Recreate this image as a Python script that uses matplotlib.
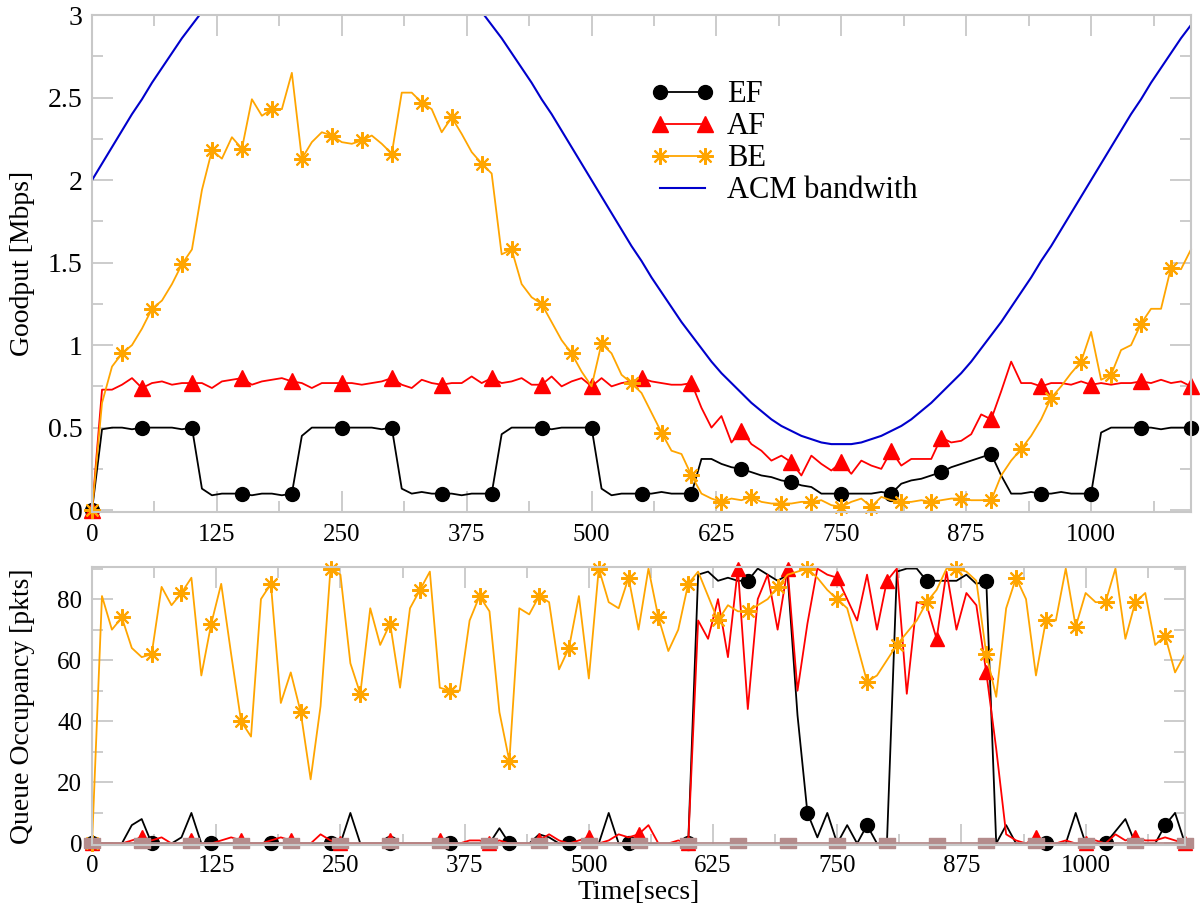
import numpy as np
import matplotlib
matplotlib.use('Agg')
import matplotlib.pyplot as plt
from matplotlib.ticker import MultipleLocator

plt.rcParams['font.family'] = ['Liberation Serif', 'DejaVu Serif']

# sample times (secs)
time = np.arange(0, 1101, 10)

# goodput [Mbps]
ef_good = [0, 0.49, 0.50, 0.50, 0.49, 0.50, 0.50, 0.50, 0.50, 0.49, 0.50,
           0.13, 0.09, 0.10, 0.10, 0.10, 0.09, 0.10, 0.10, 0.09, 0.10,
           0.45, 0.50, 0.50, 0.50, 0.50, 0.50, 0.50, 0.50, 0.49, 0.50,
           0.13, 0.10, 0.11, 0.10, 0.10, 0.10, 0.09, 0.10, 0.10, 0.10,
           0.46, 0.50, 0.50, 0.50, 0.50, 0.49, 0.50, 0.50, 0.50, 0.50,
           0.13, 0.09, 0.10, 0.10, 0.10, 0.10, 0.11, 0.10, 0.10, 0.10,
           0.31, 0.31, 0.28, 0.26, 0.25, 0.23, 0.21, 0.20, 0.18, 0.17,
           0.15, 0.14, 0.10, 0.10, 0.10, 0.10, 0.10, 0.10, 0.11, 0.10,
           0.16, 0.18, 0.19, 0.21, 0.23, 0.26, 0.28, 0.30, 0.32, 0.34,
           0.21, 0.10, 0.10, 0.11, 0.10, 0.10, 0.11, 0.10, 0.10, 0.10,
           0.47, 0.50, 0.50, 0.50, 0.50, 0.50, 0.49, 0.50, 0.50, 0.50]
af_good = [0, 0.73, 0.73, 0.76, 0.80, 0.74, 0.77, 0.78, 0.76, 0.77, 0.77,
           0.77, 0.74, 0.78, 0.79, 0.80, 0.76, 0.78, 0.79, 0.80, 0.78,
           0.77, 0.74, 0.77, 0.77, 0.77, 0.77, 0.76, 0.77, 0.78, 0.80,
           0.76, 0.74, 0.79, 0.77, 0.76, 0.77, 0.77, 0.81, 0.77, 0.80,
           0.77, 0.78, 0.80, 0.76, 0.76, 0.81, 0.75, 0.78, 0.80, 0.75,
           0.80, 0.75, 0.77, 0.78, 0.80, 0.78, 0.77, 0.76, 0.76, 0.77,
           0.62, 0.50, 0.57, 0.41, 0.48, 0.40, 0.36, 0.30, 0.33, 0.29,
           0.21, 0.33, 0.28, 0.24, 0.29, 0.22, 0.30, 0.27, 0.25, 0.36,
           0.27, 0.31, 0.31, 0.31, 0.44, 0.41, 0.42, 0.46, 0.58, 0.55,
           0.72, 0.90, 0.77, 0.77, 0.75, 0.77, 0.77, 0.76, 0.78, 0.76,
           0.77, 0.76, 0.77, 0.77, 0.78, 0.77, 0.79, 0.77, 0.78, 0.75]
be_good = [0, 0.65, 0.87, 0.95, 1.00, 1.10, 1.22, 1.27, 1.37, 1.49, 1.58,
           1.94, 2.18, 2.13, 2.26, 2.19, 2.49, 2.39, 2.43, 2.43, 2.65,
           2.13, 2.23, 2.29, 2.27, 2.23, 2.22, 2.24, 2.27, 2.22, 2.16,
           2.53, 2.53, 2.47, 2.43, 2.29, 2.38, 2.28, 2.17, 2.10, 2.04,
           1.55, 1.58, 1.37, 1.29, 1.25, 1.14, 1.03, 0.95, 0.84, 0.75,
           1.01, 0.95, 0.82, 0.77, 0.71, 0.59, 0.47, 0.36, 0.34, 0.21,
           0.10, 0.07, 0.05, 0.07, 0.06, 0.08, 0.05, 0.04, 0.04, 0.04,
           0.05, 0.05, 0.06, 0.03, 0.02, 0.05, 0.07, 0.02, 0.08, 0.06,
           0.05, 0.05, 0.06, 0.05, 0.06, 0.07, 0.07, 0.06, 0.06, 0.06,
           0.21, 0.30, 0.37, 0.45, 0.55, 0.68, 0.75, 0.83, 0.90, 1.08,
           0.79, 0.82, 0.97, 1.00, 1.13, 1.22, 1.22, 1.47, 1.46, 1.58]
acm_bw = [2.00, 2.10, 2.20, 2.30, 2.40, 2.49, 2.59, 2.68, 2.77, 2.86, 2.94,
          3.02, 3.10, 3.17, 3.23, 3.29, 3.35, 3.40, 3.45, 3.49, 3.52,
          3.55, 3.57, 3.59, 3.60, 3.60, 3.60, 3.59, 3.57, 3.55, 3.52,
          3.49, 3.45, 3.40, 3.35, 3.29, 3.23, 3.17, 3.10, 3.02, 2.94,
          2.86, 2.77, 2.68, 2.59, 2.49, 2.40, 2.30, 2.20, 2.10, 2.00,
          1.90, 1.80, 1.70, 1.60, 1.51, 1.41, 1.32, 1.23, 1.14, 1.06,
          0.98, 0.90, 0.83, 0.77, 0.71, 0.65, 0.60, 0.55, 0.51, 0.48,
          0.45, 0.43, 0.41, 0.40, 0.40, 0.40, 0.41, 0.43, 0.45, 0.48,
          0.51, 0.55, 0.60, 0.65, 0.71, 0.77, 0.83, 0.90, 0.98, 1.06,
          1.14, 1.23, 1.32, 1.41, 1.51, 1.60, 1.70, 1.80, 1.90, 2.00,
          2.10, 2.20, 2.30, 2.40, 2.49, 2.59, 2.68, 2.77, 2.86, 2.94]

# queue occupancy [pkts]
ef_queue = [0, 0, 0, 0, 6, 8, 0, 0, 0, 2, 10,
            0, 0, 0, 0, 0, 0, 0, 0, 0, 0,
            0, 0, 0, 0, 0, 10, 0, 0, 0, 0,
            0, 0, 0, 0, 0, 0, 0, 0, 0, 0,
            5, 0, 0, 0, 3, 2, 0, 0, 0, 0,
            0, 10, 0, 0, 0, 0, 0, 0, 0, 0,
            88, 89, 86, 87, 86, 86, 90, 88, 86, 88,
            42, 10, 2, 10, 0, 6, 0, 6, 0, 0,
            89, 90, 90, 86, 86, 86, 86, 88, 85, 86,
            0, 6, 0, 0, 0, 0, 0, 0, 10, 0,
            0, 0, 4, 8, 0, 0, 0, 6, 10, 0]
af_queue = [0, 0, 0, 0, 1, 2, 1, 2, 0, 0, 1,
            0, 0, 1, 2, 1, 0, 0, 1, 2, 1,
            0, 0, 3, 1, 0, 0, 0, 0, 0, 1,
            0, 0, 0, 0, 1, 0, 0, 1, 1, 0,
            1, 0, 0, 0, 1, 3, 1, 0, 1, 2,
            0, 1, 3, 2, 3, 6, 0, 0, 1, 0,
            73, 67, 80, 61, 90, 44, 80, 88, 70, 90,
            50, 72, 90, 88, 87, 80, 73, 88, 70, 86,
            90, 49, 79, 78, 67, 89, 70, 82, 78, 56,
            31, 3, 1, 0, 2, 0, 0, 1, 0, 0,
            1, 0, 3, 1, 2, 1, 1, 2, 1, 0]
be_queue = [0, 81, 70, 74, 64, 61, 62, 84, 78, 82, 87,
            55, 72, 85, 62, 40, 35, 80, 85, 46, 56,
            43, 21, 45, 90, 88, 59, 49, 77, 65, 72,
            51, 77, 83, 89, 51, 50, 50, 73, 81, 76,
            43, 27, 77, 75, 81, 79, 57, 64, 81, 54,
            90, 79, 77, 87, 70, 90, 74, 63, 70, 85,
            89, 81, 73, 78, 76, 76, 78, 80, 84, 88,
            89, 90, 87, 83, 80, 77, 65, 53, 55, 60,
            65, 69, 73, 79, 83, 90, 90, 89, 86, 62,
            48, 77, 87, 80, 55, 73, 73, 90, 71, 82,
            79, 79, 90, 67, 79, 82, 65, 68, 56, 62]
other_queue = [0] * len(time)

rect = [(-1, -0.7), (1, -0.7), (1, 0.7), (-1, 0.7), (-1, -0.7)]
gray = '#c8c8c8'
orange = '#ffa500'
star = (8, 2, 0)

fig = plt.figure(figsize=(12, 9.09), dpi=100)
ax1 = fig.add_axes([0.0767, 0.437, 0.9158, 0.5464])
ax2 = fig.add_axes([0.0767, 0.0704, 0.9108, 0.3058])

ax1.plot(time, ef_good, color='black', lw=1.3, marker='o', ms=10, markevery=5,
         label='EF', clip_on=False)
ax1.plot(time, af_good, color='red', lw=1.3, marker='^', ms=11, markevery=5,
         label='AF', clip_on=False)
ax1.plot(time, be_good, color=orange, lw=1.3, marker=star, ms=12, mew=1.5,
         markevery=3, label='BE', clip_on=False)
ax1.plot(time, acm_bw, color='#0000cc', lw=1.5, label='ACM bandwith')
ax1.set_xlim(0, 1100)
ax1.set_ylim(-0.01, 3)
ax1.set_xticks([0, 125, 250, 375, 500, 625, 750, 875, 1000])
ax1.xaxis.set_minor_locator(MultipleLocator(62.5))
ax1.set_yticks([0, 0.5, 1, 1.5, 2, 2.5, 3])
ax1.set_yticklabels(['0', '0.5', '1', '1.5', '2', '2.5', '3'])
ax1.yaxis.set_minor_locator(MultipleLocator(0.25))
ax1.set_ylabel('Goodput [Mbps]', fontsize=20)
ax1.yaxis.set_label_coords(-0.052, 0.5)
ax1.legend(loc='upper left', bbox_to_anchor=(636 / 1200, 1 - 65 / 909),
           bbox_transform=fig.transFigure, frameon=False, numpoints=2,
           fontsize=22, handlelength=2.05, handletextpad=0.43, labelspacing=0.1,
           borderpad=0)

ax2.plot(time, ef_queue, color='black', lw=1.3, marker='o', ms=10, markevery=6,
         clip_on=False)
ax2.plot(time, af_queue, color='red', lw=1.3, marker='^', ms=10, markevery=5,
         clip_on=False)
ax2.plot(time, be_queue, color=orange, lw=1.3, marker=star, ms=12, mew=1.5,
         markevery=3, clip_on=False)
ax2.plot(time, other_queue, color='#b48c8c', lw=1.3, marker=rect, ms=11,
         markevery=5, clip_on=False)
ax2.set_xlim(0, 1100)
ax2.set_ylim(-0.5, 90.5)
ax2.set_xticks([0, 125, 250, 375, 500, 625, 750, 875, 1000])
ax2.xaxis.set_minor_locator(MultipleLocator(62.5))
ax2.set_yticks([0, 20, 40, 60, 80])
ax2.yaxis.set_minor_locator(MultipleLocator(10))
ax2.set_ylabel('Queue Occupancy [pkts]', fontsize=20)
ax2.yaxis.set_label_coords(-0.052, 0.5)
ax2.set_xlabel('Time[secs]', fontsize=20, labelpad=2)

for ax in (ax1, ax2):
    for sp in ax.spines.values():
        sp.set_color(gray)
        sp.set_linewidth(1.5)
    ax.tick_params(which='both', direction='in', top=True, right=True,
                   color=gray, width=1.3)
    ax.tick_params(which='major', length=15, pad=7)
    ax.tick_params(which='minor', length=8)
    ax.tick_params(axis='x', labelsize=18)
ax1.tick_params(axis='y', labelsize=20)
ax2.tick_params(axis='y', labelsize=18)
ax1.tick_params(axis='x', pad=9)

fig.savefig('out.png', dpi=100)
